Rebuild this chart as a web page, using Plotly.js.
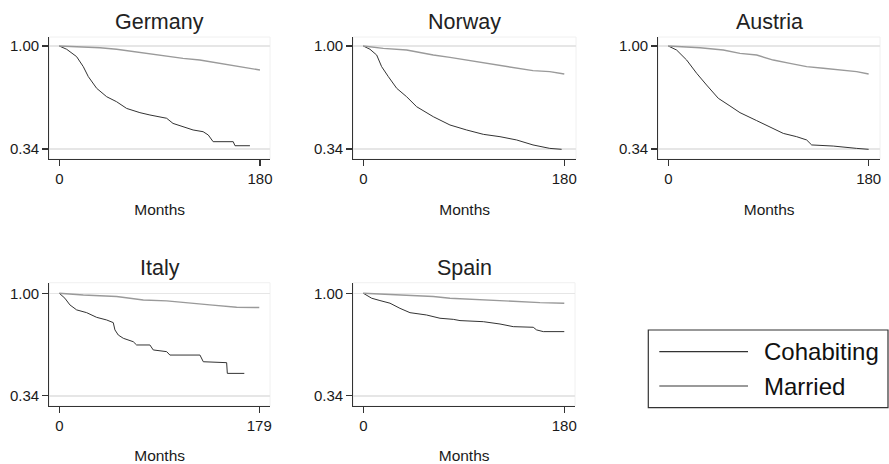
<!DOCTYPE html>
<html>
<head>
<meta charset="utf-8">
<script src="https://cdn.plot.ly/plotly-3.0.1.min.js"></script>
<style>html,body{margin:0;padding:0;background:#fff}#chart{width:889px;height:464px}</style>
</head>
<body>
<div id="chart"></div>
<script>
// ---- Data ----
const countries = ["Germany", "Norway", "Austria", "Italy", "Spain"];
const seriesNames = ["Cohabiting", "Married"];
const yTickVals = [0.34, 1.00];
const yTickText = ["0.34", "1.00"];
const xTickMax = [180, 180, 180, 179, 180];

const germanyCohabMonths = [0, 6.6, 15.5, 21.5, 26, 33.5, 42.5, 51.4, 60.4, 72.3, 81.3, 96.3, 102, 111, 120, 129, 133.6, 138, 156, 157.6, 171];
const germanyCohabSurv   = [1.0, 0.979, 0.932, 0.868, 0.804, 0.729, 0.675, 0.643, 0.600, 0.573, 0.558, 0.537, 0.504, 0.483, 0.462, 0.451, 0.430, 0.387, 0.387, 0.361, 0.361];
const germanyMarrMonths  = [0, 36.5, 51.4, 66.4, 81.3, 96.3, 111, 126, 141, 156, 171, 180];
const germanyMarrSurv    = [1.0, 0.989, 0.979, 0.964, 0.949, 0.932, 0.921, 0.910, 0.893, 0.876, 0.857, 0.846];

const norwayCohabMonths = [0, 6, 12, 16.4, 22.4, 29.9, 38.8, 47.8, 62.7, 77.6, 92.5, 107.5, 122.4, 137.3, 152, 167, 177.6];
const norwayCohabSurv   = [1.0, 0.979, 0.942, 0.868, 0.804, 0.729, 0.675, 0.611, 0.547, 0.494, 0.462, 0.434, 0.419, 0.398, 0.366, 0.344, 0.338];
const norwayMarrMonths  = [0, 17.9, 38.8, 62.7, 77.6, 92.5, 107.5, 122.4, 137.3, 152, 167, 180];
const norwayMarrSurv    = [1.0, 0.985, 0.974, 0.942, 0.927, 0.910, 0.893, 0.876, 0.857, 0.842, 0.836, 0.821];

const austriaCohabMonths = [0, 7.5, 16.5, 25.5, 34.4, 44.9, 55.4, 64.4, 79.4, 94.3, 103.3, 115.3, 124.3, 128.8, 148.2, 169.2, 180];
const austriaCohabSurv   = [1.0, 0.974, 0.910, 0.825, 0.750, 0.665, 0.616, 0.573, 0.522, 0.473, 0.440, 0.419, 0.398, 0.366, 0.359, 0.344, 0.338];
const austriaMarrMonths  = [0, 28.5, 49.4, 64.4, 79.4, 94.3, 109.3, 124.3, 139.3, 154.2, 169.2, 180];
const austriaMarrSurv    = [1.0, 0.989, 0.974, 0.953, 0.942, 0.910, 0.889, 0.868, 0.857, 0.846, 0.836, 0.821];

const italyCohabMonths = [0, 5, 9.5, 15.5, 24.5, 33.4, 42.4, 48.3, 49.8, 52.8, 57.3, 66.2, 69.2, 81.1, 84.1, 96.1, 99, 125.9, 128.9, 149.8, 150.4, 165.6];
const italyCohabSurv   = [1.0, 0.968, 0.925, 0.893, 0.875, 0.845, 0.828, 0.811, 0.764, 0.731, 0.710, 0.688, 0.667, 0.667, 0.635, 0.624, 0.602, 0.602, 0.559, 0.553, 0.484, 0.484];
const italyMarrMonths  = [0, 21.5, 51.3, 75.2, 96.1, 111, 134.8, 158.7, 179];
const italyMarrSurv    = [1.0, 0.989, 0.979, 0.957, 0.951, 0.940, 0.925, 0.910, 0.908];

const spainCohabMonths = [0, 7.5, 14.9, 23.9, 32.8, 41.8, 56.7, 68.7, 80.6, 86.6, 107.5, 122.4, 134.3, 152.2, 155.2, 161.2, 180];
const spainCohabSurv   = [1.0, 0.968, 0.953, 0.936, 0.903, 0.875, 0.860, 0.839, 0.832, 0.824, 0.817, 0.802, 0.785, 0.781, 0.764, 0.753, 0.753];
const spainMarrMonths  = [0, 32.8, 62.7, 77.6, 107.5, 137.3, 158.2, 180];
const spainMarrSurv    = [1.0, 0.989, 0.979, 0.968, 0.957, 0.946, 0.940, 0.936];

const cohabMonths = [germanyCohabMonths, norwayCohabMonths, austriaCohabMonths, italyCohabMonths, spainCohabMonths];
const cohabSurv   = [germanyCohabSurv, norwayCohabSurv, austriaCohabSurv, italyCohabSurv, spainCohabSurv];
const marrMonths  = [germanyMarrMonths, norwayMarrMonths, austriaMarrMonths, italyMarrMonths, spainMarrMonths];
const marrSurv    = [germanyMarrSurv, norwayMarrSurv, austriaMarrSurv, italyMarrSurv, spainMarrSurv];

// ---- Layout geometry (pixels) ----
const W = 889, H = 464;
const panels = [
  {l: 49.3, r: 270, t: 37, b: 159, xr: [-8.97, 189.0], yr: [0.276, 1.0577]},
  {l: 353.3, r: 576, t: 37, b: 159, xr: [-8.96, 190.5], yr: [0.276, 1.0577]},
  {l: 658.3, r: 880, t: 37, b: 159, xr: [-8.98, 190.2], yr: [0.276, 1.0577]},
  {l: 49.3, r: 270, t: 282.7, b: 406, xr: [-8.95, 188.6], yr: [0.274, 1.068]},
  {l: 353.3, r: 575, t: 282.7, b: 406, xr: [-8.96, 189.6], yr: [0.274, 1.068]}
];
const FONT = "Liberation Sans, Arial, sans-serif";
const cohabColor = "#333333", marrColor = "#9a9a9a";

const traces = [];
const layout = {
  width: W, height: H,
  margin: {l: 0, r: 0, t: 0, b: 0},
  paper_bgcolor: "#ffffff",
  plot_bgcolor: "#ffffff",
  showlegend: false,
  font: {family: FONT, color: "#111"},
  annotations: [],
  shapes: []
};

panels.forEach((p, i) => {
  const n = i + 1;
  const xa = "x" + (n === 1 ? "" : n), ya = "y" + (n === 1 ? "" : n);
  traces.push({
    x: cohabMonths[i], y: cohabSurv[i], type: "scatter", mode: "lines",
    name: seriesNames[0], xaxis: xa, yaxis: ya,
    line: {color: cohabColor, width: 1, shape: "linear"}, hoverinfo: "skip"
  });
  traces.push({
    x: marrMonths[i], y: marrSurv[i], type: "scatter", mode: "lines",
    name: seriesNames[1], xaxis: xa, yaxis: ya,
    line: {color: marrColor, width: 1.4, shape: "linear"}, hoverinfo: "skip"
  });
  const xKey = "xaxis" + (n === 1 ? "" : n), yKey = "yaxis" + (n === 1 ? "" : n);
  layout[xKey] = {
    domain: [p.l / W, p.r / W], range: p.xr, anchor: ya,
    showgrid: false, zeroline: false, showline: true, linecolor: "#333", linewidth: 1.2,
    ticks: "outside", ticklen: 6, tickcolor: "#333", tickwidth: 1.2,
    tickmode: "array", tickvals: [0, xTickMax[i]], ticktext: ["0", String(xTickMax[i])],
    tickfont: {family: FONT, size: 15, color: "#1a1a1a"},
    title: {text: "Months", font: {family: FONT, size: 15.5, color: "#1a1a1a"}, standoff: 18},
    automargin: false, fixedrange: true
  };
  layout[yKey] = {
    domain: [1 - p.b / H, 1 - p.t / H], range: p.yr, anchor: xa,
    showgrid: true, gridcolor: "#e6e6e6", gridwidth: 1.5, zeroline: false,
    showline: true, linecolor: "#333", linewidth: 1.2,
    ticks: "outside", ticklen: 6, tickcolor: "#333", tickwidth: 1.2,
    tickmode: "array", tickvals: yTickVals, ticktext: yTickText,
    tickfont: {family: FONT, size: 15, color: "#1a1a1a"},
    automargin: false, fixedrange: true
  };
  // faint plot-region border (top/right)
  layout.shapes.push({type: "rect", xref: "paper", yref: "paper",
    x0: p.l / W, x1: p.r / W, y0: 1 - p.b / H, y1: 1 - p.t / H,
    line: {color: "#f0f0f0", width: 1}, layer: "below"});
  layout.annotations.push({
    text: countries[i], xref: "paper", yref: "paper",
    x: (p.l + p.r) / 2 / W, y: 1 - (p.t - 15) / H, xanchor: "center", yanchor: "middle",
    showarrow: false, font: {family: FONT, size: 21.5, color: "#222"}
  });
});

// ---- Legend (box, sample lines, labels) ----
const lg = {l: 648.3, r: 888, t: 330, b: 407.7};
layout.shapes.push({type: "rect", xref: "paper", yref: "paper",
  x0: lg.l / W, x1: lg.r / W, y0: 1 - lg.b / H, y1: 1 - lg.t / H,
  line: {color: "#333", width: 1.2}, fillcolor: "#ffffff"});
const legRows = [351.7, 386];
const legColors = [cohabColor, marrColor], legWidths = [1.2, 2.2];
seriesNames.forEach((nm, k) => {
  layout.shapes.push({type: "line", xref: "paper", yref: "paper",
    x0: 659.3 / W, x1: 748 / W, y0: 1 - legRows[k] / H, y1: 1 - legRows[k] / H,
    line: {color: legColors[k], width: legWidths[k]}});
  layout.annotations.push({text: nm, xref: "paper", yref: "paper",
    x: 762 / W, y: 1 - legRows[k] / H, xanchor: "left", yanchor: "middle",
    showarrow: false, font: {family: FONT, size: 24, color: "#111"}});
});

Plotly.newPlot("chart", traces, layout, {staticPlot: true, displayModeBar: false});
</script>
</body>
</html>
